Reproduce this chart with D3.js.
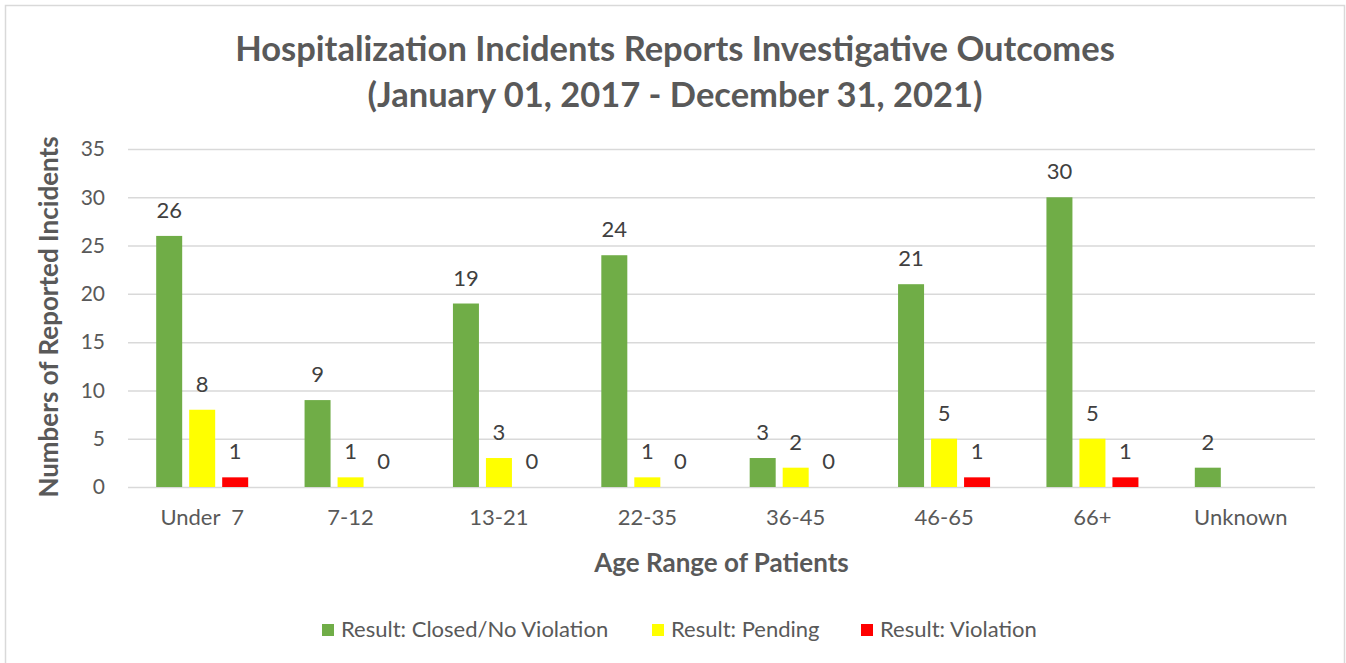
<!DOCTYPE html>
<html>
<head>
<meta charset="utf-8">
<script src="https://cdn.jsdelivr.net/npm/d3@7"></script>
<style>
	body { margin: 0; background: #fff; }
	text { font-family: Lato, "Open Sans", sans-serif; }
</style>
</head>
<body>
<script>
// chart data
var ageRanges = ['Under  7', '7-12', '13-21', '22-35', '36-45', '46-65', '66+', 'Unknown'];
var seriesNames = ['Result: Closed/No Violation', 'Result: Pending', 'Result: Violation'];
var closedValues = [26, 9, 19, 24, 3, 21, 30, 2];
var pendingValues = [8, 1, 3, 1, 2, 5, 5, null];
var violationValues = [1, 0, 0, 0, 0, 1, 1, null];
var yTicks = [0, 5, 10, 15, 20, 25, 30, 35];
var colors = ['#70ad47', '#ffff00', '#ff0000'];

var width = 1346, height = 663;
var plot = {left: 128, right: 1315, top: 149, bottom: 487};

var svg = d3.select('body').append('svg')
	.attr('width', width)
	.attr('height', height);

// chart border
svg.append('rect')
	.attr('x', 5.5).attr('y', 5.5)
	.attr('width', 1339).attr('height', 670)
	.attr('fill', '#fff')
	.attr('stroke', '#d9d9d9')
	.attr('stroke-width', 1.5);

// title
var title = svg.append('text')
	.attr('text-anchor', 'middle')
	.attr('fill', '#595959')
	.attr('font-weight', 'bold')
	.attr('font-size', 34.5);
title.append('tspan').attr('x', 675).attr('y', 61)
	.text('Hospitalization Incidents Reports Investigative Outcomes');
title.append('tspan').attr('x', 675).attr('y', 107)
	.text('(January 01, 2017 - December 31, 2021)');

var y = d3.scaleLinear()
	.domain([0, 35])
	.range([plot.bottom, plot.top]);

var x0 = d3.scaleBand()
	.domain(ageRanges)
	.range([plot.left, plot.right]);

var groupW = 92;
var x1 = d3.scaleBand()
	.domain(d3.range(seriesNames.length))
	.range([x0.bandwidth() / 2 - groupW / 2, x0.bandwidth() / 2 + groupW / 2])
	.paddingInner(7 / 33);

// gridlines + y labels
var yAxis = d3.axisLeft(y)
	.tickValues(yTicks)
	.tickSize(-(plot.right - plot.left))
	.tickPadding(23);
var gy = svg.append('g')
	.attr('transform', 'translate(' + plot.left + ',0)')
	.call(yAxis);
gy.select('.domain').remove();
gy.selectAll('.tick line').attr('stroke', '#d9d9d9').attr('stroke-width', 1.5);
gy.selectAll('.tick text')
	.attr('fill', '#595959')
	.attr('font-size', 21)
	.attr('font-family', 'Lato, sans-serif');

// x axis labels
var xAxis = d3.axisBottom(x0).tickSize(0).tickPadding(22);
var gx = svg.append('g')
	.attr('transform', 'translate(0,' + plot.bottom + ')')
	.call(xAxis);
gx.select('.domain').remove();
gx.selectAll('.tick text')
	.attr('fill', '#595959')
	.attr('font-size', 22)
	.attr('font-family', 'Lato, sans-serif')
	.style('white-space', 'pre');

// bars
var rows = ageRanges.map(function(a, i) {
	return {cat: a, vals: [closedValues[i], pendingValues[i], violationValues[i]]};
});

var groups = svg.append('g').selectAll('g')
	.data(rows)
	.enter().append('g')
	.attr('transform', function(d) { return 'translate(' + x0(d.cat) + ',0)'; });

var cells = groups.selectAll('g')
	.data(function(d) {
		return d.vals.map(function(v, k) { return {v: v, k: k}; })
			.filter(function(c) { return c.v != null; });
	})
	.enter().append('g');

cells.append('rect')
	.attr('x', function(d) { return x1(d.k); })
	.attr('width', x1.bandwidth())
	.attr('y', function(d) { return y(d.v); })
	.attr('height', function(d) { return y(0) - y(d.v); })
	.attr('fill', function(d) { return colors[d.k]; });

cells.append('text')
	.attr('x', function(d) { return x1(d.k) + x1.bandwidth() / 2; })
	.attr('y', function(d) { return y(d.v) - 18; })
	.attr('text-anchor', 'middle')
	.attr('fill', '#404040')
	.attr('font-size', 22)
	.text(function(d) { return d.v; });

// axis titles
svg.append('text')
	.attr('transform', 'translate(58,317) rotate(-90)')
	.attr('text-anchor', 'middle')
	.attr('fill', '#595959')
	.attr('font-weight', 'bold')
	.attr('font-size', 26)
	.text('Numbers of Reported Incidents');

svg.append('text')
	.attr('x', (plot.left + plot.right) / 2)
	.attr('y', 572)
	.attr('text-anchor', 'middle')
	.attr('fill', '#595959')
	.attr('font-weight', 'bold')
	.attr('font-size', 26)
	.text('Age Range of Patients');

// legend
var legendX = [322, 652, 861];
var legend = svg.append('g').selectAll('g')
	.data(seriesNames)
	.enter().append('g')
	.attr('transform', function(d, i) { return 'translate(' + legendX[i] + ',624)'; });
legend.append('rect')
	.attr('width', 12).attr('height', 12)
	.attr('fill', function(d, i) { return colors[i]; });
legend.append('text')
	.attr('x', 19)
	.attr('y', 13)
	.attr('fill', '#595959')
	.attr('font-size', 22)
	.text(function(d) { return d; });
</script>
</body>
</html>
